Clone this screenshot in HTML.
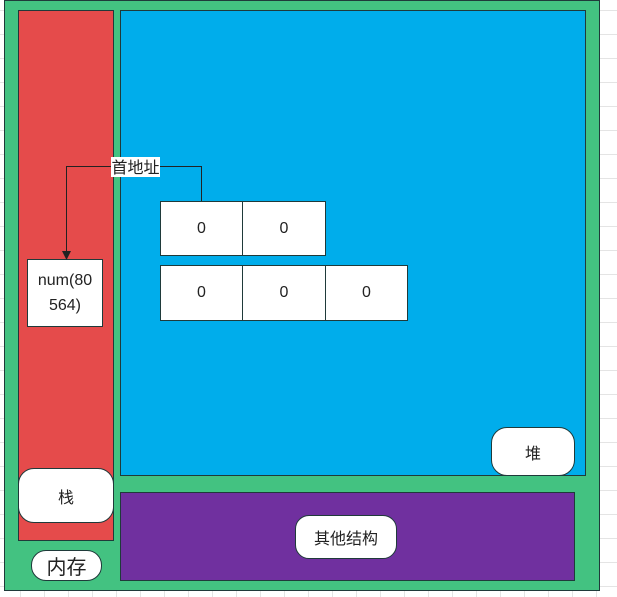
<!DOCTYPE html>
<html><head><style>
body{margin:0;width:617px;height:597px;overflow:hidden;background-color:#fff;
background-image:linear-gradient(#e4e4e4 1px,transparent 1px),linear-gradient(90deg,#e4e4e4 1px,transparent 1px);background-size:24px 24px;background-position:-4px 10px;
font-family:"Liberation Sans","Noto Sans CJK SC",sans-serif;position:relative}
.a{position:absolute;box-sizing:border-box;border:1px solid #1f3a3a}
.w{background:#fff;display:flex;align-items:center;justify-content:center;font-size:16px;color:#222;text-align:center}
</style></head><body>
<div class="a" style="left:4px;top:0;width:596px;height:591px;background:#43c281"></div>
<div class="a" style="left:18px;top:10px;width:96px;height:531px;background:#e54b4b"></div>
<div class="a" style="left:120px;top:10px;width:466px;height:466px;background:#00adeb"></div>
<div class="a" style="left:120px;top:492px;width:455px;height:89px;background:#70309f"></div>
<div class="a w" style="left:18px;top:468px;width:96px;height:55px;border-radius:16px">栈</div>
<div class="a w" style="left:31px;top:550px;width:71px;height:31px;border-radius:15px;font-size:20px">内存</div>
<div class="a w" style="left:491px;top:427px;width:84px;height:49px;border-radius:16px">堆</div>
<div class="a w" style="left:295px;top:515px;width:102px;height:44px;border-radius:14px">其他结构</div>
<div class="a w" style="left:27px;top:259px;width:76px;height:68px;line-height:25px">num(80<br>564)</div>
<div class="a w" style="left:160px;top:201px;width:83px;height:55px">0</div>
<div class="a w" style="left:242px;top:201px;width:84px;height:55px">0</div>
<div class="a w" style="left:160px;top:265px;width:83px;height:56px">0</div>
<div class="a w" style="left:242px;top:265px;width:84px;height:56px">0</div>
<div class="a w" style="left:325px;top:265px;width:83px;height:56px">0</div>
<svg style="position:absolute;left:0;top:0" width="617" height="597">
<polyline points="201.5,201 201.5,166.5 66.5,166.5 66.5,252" fill="none" stroke="#222" stroke-width="1"/>
<polygon points="62,251 71,251 66.5,260" fill="#222"/>
<rect x="111" y="157" width="49" height="20" fill="#fff"/>
<text x="135.5" y="173" font-size="16" text-anchor="middle" fill="#222" font-family="Liberation Sans,Noto Sans CJK SC,sans-serif">首地址</text>
</svg>
</body></html>
